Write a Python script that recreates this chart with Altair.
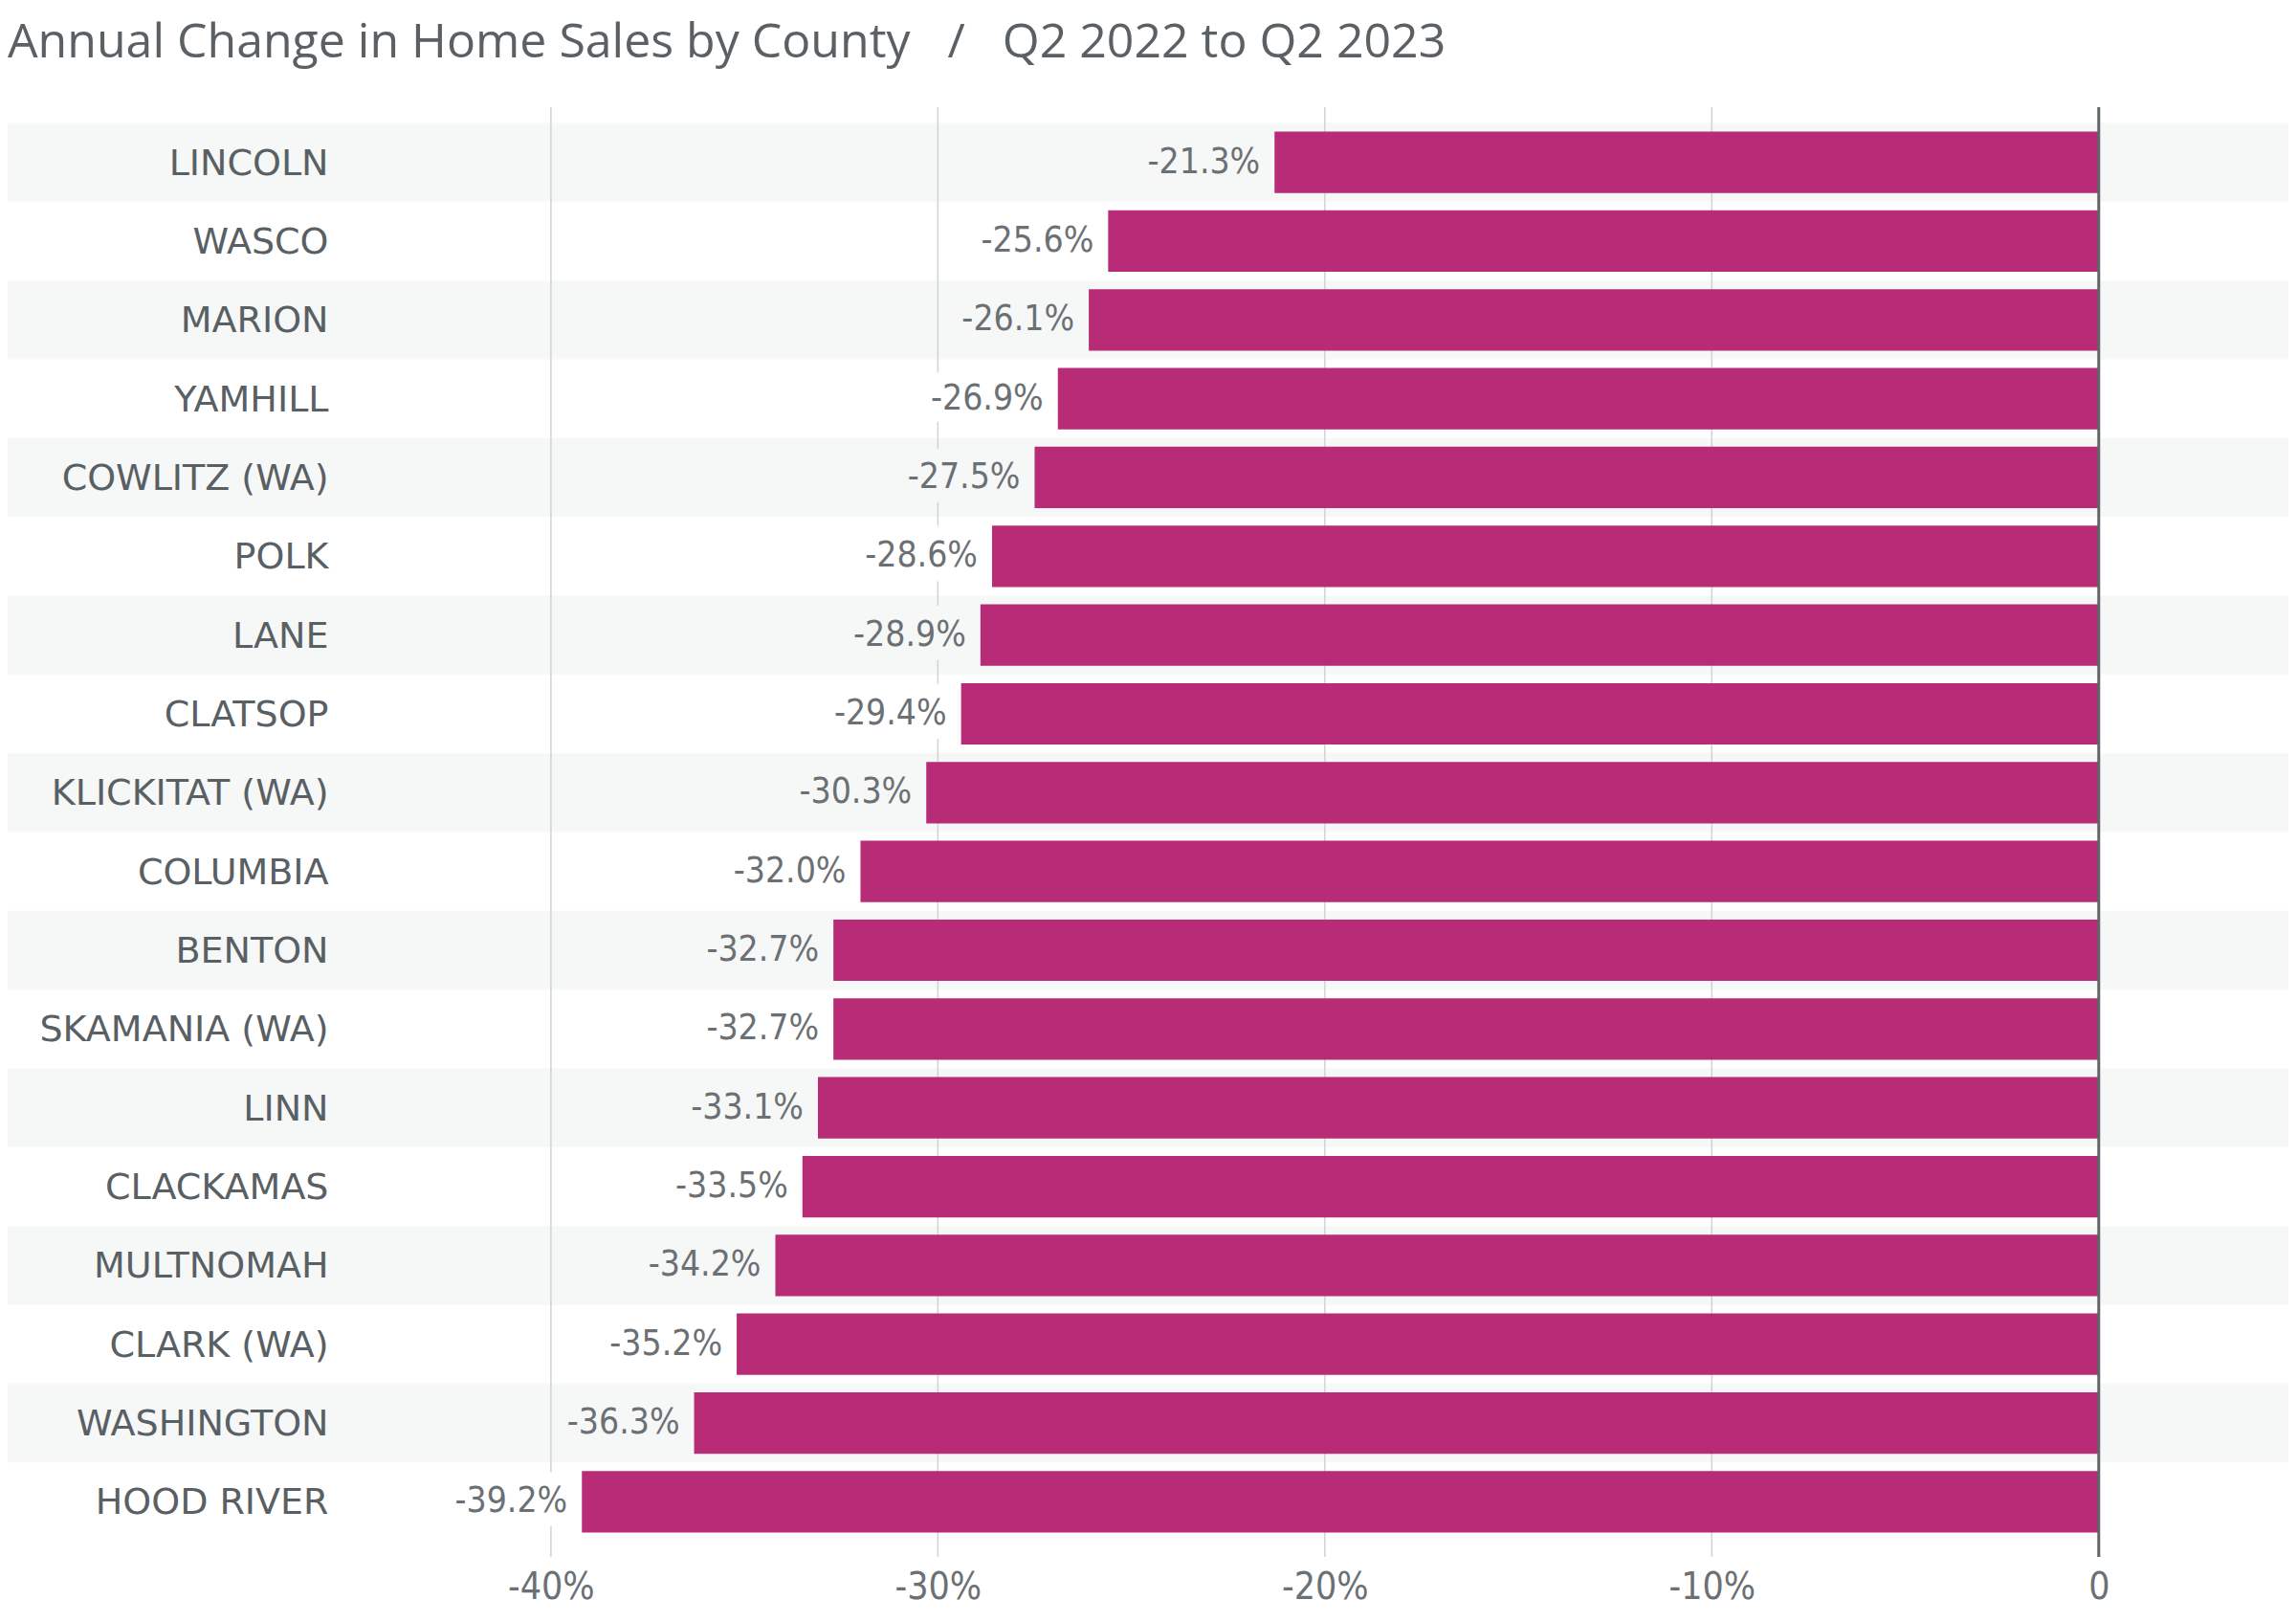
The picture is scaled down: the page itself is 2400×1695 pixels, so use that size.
import altair as alt
import pandas as pd

counties = ["LINCOLN", "WASCO", "MARION", "YAMHILL", "COWLITZ (WA)", "POLK", "LANE",
            "CLATSOP", "KLICKITAT (WA)", "COLUMBIA", "BENTON", "SKAMANIA (WA)", "LINN",
            "CLACKAMAS", "MULTNOMAH", "CLARK (WA)", "WASHINGTON", "HOOD RIVER"]
changes = [-21.3, -25.6, -26.1, -26.9, -27.5, -28.6, -28.9, -29.4, -30.3, -32.0,
           -32.7, -32.7, -33.1, -33.5, -34.2, -35.2, -36.3, -39.2]
tick_values = [-40, -30, -20, -10, 0]

labels = [f"{v:.1f}%" for v in changes]
shade = [i % 2 == 0 for i in range(len(counties))]

df = pd.DataFrame({"county": counties, "value": changes, "lab": labels, "shade": shade})
grid_df = pd.DataFrame({"value": [t for t in tick_values if t != 0]})
zero_df = pd.DataFrame({"value": [0]})

BAR = "#b82b77"
BAND = "#f6f7f7"
TEXT_DARK = "#596064"
TEXT_VAL = "#6b7074"
NARROW = "DejaVu Sans Condensed, Liberation Sans Narrow, Roboto"

xscale = alt.Scale(domain=[-54.04, 4.9], nice=False, zero=False)
yscale = alt.Scale(paddingInner=0, paddingOuter=0.2)

y_axis = alt.Axis(title=None, orient="left", labelAlign="right", labelPadding=-335,
                  ticks=False, tickSize=0, domain=False, grid=False, labelLimit=600,
                  labelFont="DejaVu Sans", labelFontSize=38, labelColor=TEXT_DARK,
                  labelBaseline="middle", labelOffset=2)
x_axis = alt.Axis(title=None, values=tick_values, grid=False, domain=False, ticks=False,
                  tickSize=0, labelPadding=12, labelFont=NARROW,
                  labelFontSize=39, labelColor=TEXT_VAL,
                  labelExpr="datum.value == 0 ? '0' : datum.value + '%'")

X = alt.X("value:Q", scale=xscale, axis=x_axis, title=None)
Y = alt.Y("county:N", sort=counties, scale=yscale, axis=y_axis, title=None)

base = alt.Chart(df)

bands = base.transform_filter("datum.shade").mark_rect(color=BAND).encode(
    y=Y, x=alt.value(0), x2=alt.value("width"))

grid = alt.Chart(grid_df).mark_rule(color="#cfd3d4", strokeWidth=1.5).encode(x=X)

blob = base.mark_text(align="right", baseline="middle", dx=-15, font=NARROW,
                      fontSize=37, strokeWidth=30, strokeJoin="round").encode(
    x=X, y=Y, text="lab:N",
    color=alt.condition("datum.shade", alt.value(BAND), alt.value("white")),
    stroke=alt.condition("datum.shade", alt.value(BAND), alt.value("white")))

bars = base.mark_bar(color=BAR, height={"band": 0.78}).encode(
    x=X, x2=alt.datum(0), y=Y)

zero = alt.Chart(zero_df).mark_rule(color="#5f6468", strokeWidth=3).encode(x=X)

vals = base.mark_text(align="right", baseline="middle", dx=-15, font=NARROW,
                      fontSize=37, color=TEXT_VAL).encode(x=X, y=Y, text="lab:N")

title = alt.TitleParams(
    text="Annual Change in Home Sales by County\u00a0\u00a0\u00a0/\u00a0\u00a0\u00a0Q2 2022 to Q2 2023",
    anchor="start", font="Open Sans", fontSize=50, fontWeight="normal", color="#5a6064",
    baseline="alphabetic", offset=1)

chart = alt.layer(bands, grid, blob, bars, zero, vals).properties(
    width=2384, height=1515, title=title,
    autosize=alt.AutoSizeParams(type="none"),
    padding={"left": 0, "top": 104, "right": 0, "bottom": 60},
    background="white",
).configure_view(stroke=None)

chart.save("out.html", embed_options={"renderer": "svg", "actions": False})
